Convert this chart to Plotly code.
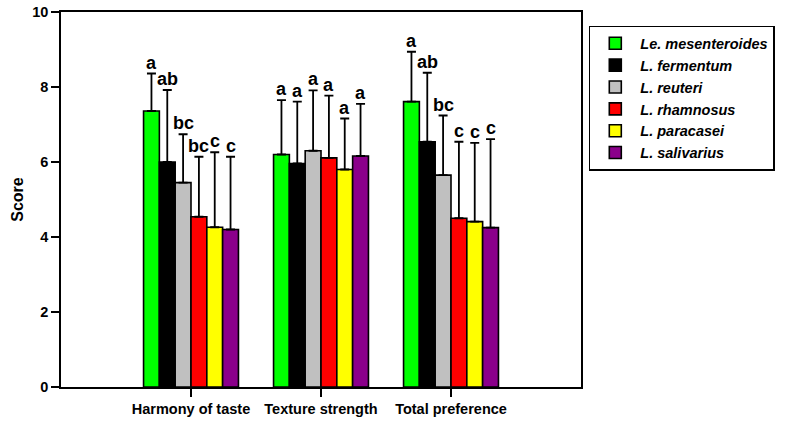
import plotly.graph_objects as go

attributes = ["Harmony of taste", "Texture strength", "Total preference"]
strains = ["Le. mesenteroides", "L. fermentum", "L. reuteri",
           "L. rhamnosus", "L. paracasei", "L. salivarius"]
colors = ["#00FF00", "#000000", "#C0C0C0", "#FF0000", "#FFFF00", "#8B008B"]

mean_mesenteroides = [7.36, 6.20, 7.61]
mean_fermentum = [6.00, 5.96, 6.54]
mean_reuteri = [5.45, 6.30, 5.65]
mean_rhamnosus = [4.54, 6.11, 4.50]
mean_paracasei = [4.26, 5.80, 4.41]
mean_salivarius = [4.20, 6.16, 4.25]

sd_mesenteroides = [1.00, 1.45, 1.33]
sd_fermentum = [1.92, 1.65, 1.84]
sd_reuteri = [1.29, 1.61, 1.59]
sd_rhamnosus = [1.60, 1.66, 2.04]
sd_paracasei = [2.00, 1.36, 2.10]
sd_salivarius = [1.94, 1.39, 2.36]

letters_mesenteroides = ["a", "a", "a"]
letters_fermentum = ["ab", "a", "ab"]
letters_reuteri = ["bc", "a", "bc"]
letters_rhamnosus = ["bc", "a", "c"]
letters_paracasei = ["c", "a", "c"]
letters_salivarius = ["c", "a", "c"]

means = [mean_mesenteroides, mean_fermentum, mean_reuteri,
         mean_rhamnosus, mean_paracasei, mean_salivarius]
sds = [sd_mesenteroides, sd_fermentum, sd_reuteri,
       sd_rhamnosus, sd_paracasei, sd_salivarius]
letters = [letters_mesenteroides, letters_fermentum, letters_reuteri,
           letters_rhamnosus, letters_paracasei, letters_salivarius]

FONT = "Arial, Liberation Sans"
BARGAP = 0.27
fig = go.Figure()
for name, col, m, s in zip(strains, colors, means, sds):
    fig.add_trace(go.Bar(
        x=attributes, y=m, name=name,
        marker=dict(color=col, line=dict(color="black", width=1.6)),
        error_y=dict(type="data", array=s, arrayminus=[0] * len(s),
                     symmetric=False, color="black", thickness=1.8, width=4.5),
    ))

n = len(strains)
group_w = 1 - BARGAP
annotations = []
for j in range(n):
    for i in range(len(attributes)):
        xpos = i - group_w / 2 + (j + 0.5) * group_w / n
        annotations.append(dict(
            x=xpos, y=means[j][i] + sds[j][i], xref="x", yref="y",
            text=letters[j][i], showarrow=False, yanchor="bottom",
            yshift=-1,
            font=dict(family=FONT, size=18, color="black", weight="bold"),
        ))

fig.update_layout(
    width=790, height=428,
    margin=dict(l=61, r=209, t=12, b=41, autoexpand=False),
    paper_bgcolor="white", plot_bgcolor="white",
    barmode="group", bargap=BARGAP, bargroupgap=0,
    showlegend=True,
    legend=dict(
        x=1.015, y=0.963, xanchor="left", yanchor="top",
        bordercolor="black", borderwidth=1.5, bgcolor="white",
        font=dict(family=FONT, size=14.5, color="black",
                  weight="bold", style="italic"),
        tracegroupgap=0, itemwidth=40,
    ),
    annotations=annotations,
    font=dict(family=FONT, color="black"),
)
fig.update_xaxes(
    type="category", range=[-1, 3], automargin=False,
    showline=True, linecolor="black", linewidth=1.5, mirror=True,
    ticks="outside", ticklen=8, tickwidth=1.5, tickcolor="black",
    tickfont=dict(size=14.5, weight="bold", family=FONT),
    showgrid=False,
)
fig.update_yaxes(
    range=[0, 10], dtick=2, automargin=False,
    showline=True, linecolor="black", linewidth=1.5, mirror=True,
    ticks="outside", ticklen=8, tickwidth=1.5, tickcolor="black",
    tickfont=dict(size=14.5, weight="bold", family=FONT),
    showgrid=False, zeroline=False,
    title=dict(text="Score", font=dict(size=16, weight="bold", family=FONT),
               standoff=5),
)

fig.write_html("out.html",
               config={"displayModeBar": False},
               post_script="document.body.style.margin='0';document.body.style.overflow='hidden';")
